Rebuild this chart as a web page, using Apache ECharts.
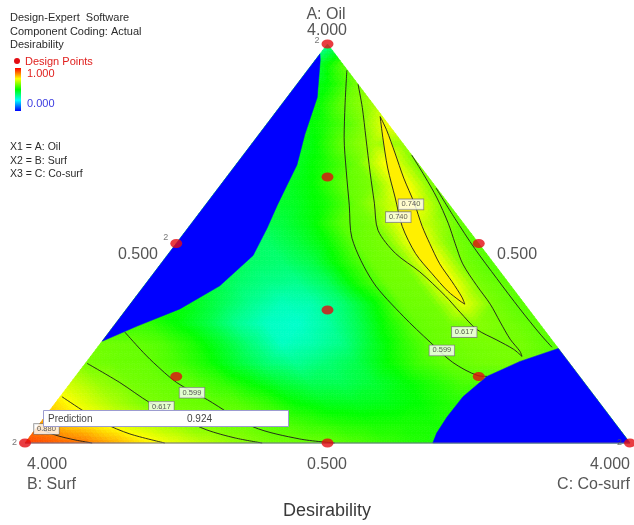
<!DOCTYPE html>
<html>
<head>
<meta charset="utf-8">
<script src="https://cdn.jsdelivr.net/npm/echarts@6.0.0/dist/echarts.min.js"></script>
<style>
html,body{margin:0;padding:0;background:#ffffff;}
#chart{width:634px;height:525px;}
</style>
</head>
<body>
<div id="chart"></div>
<script>
// ---------- values ----------
// Desirability on a simplex lattice: row i -> A (Oil) = i/20, entry j -> C (Co-surf) = j/20, B = 1-A-C
const latticeSteps = 20;
const desirabilityRows = [
  [0.94,0.91,0.885,0.83,0.77,0.725,0.68,0.64,0.615,0.607,0.60,0.575,0.55,0.53,0.52,0.52,0.52,0.52,0.52,0.52,0.52],
  [0.85,0.79,0.745,0.70,0.66,0.618,0.607,0.597,0.575,0.55,0.53,0.52,0.52,0.52,0.52,0.52,0.52,0.52,0.52,0.52],
  [0.78,0.72,0.665,0.62,0.608,0.60,0.585,0.55,0.50,0.475,0.47,0.48,0.50,0.53,0.53,0.53,0.53,0.53,0.53],
  [0.70,0.645,0.612,0.603,0.59,0.55,0.50,0.45,0.42,0.42,0.45,0.49,0.53,0.57,0.57,0.57,0.57,0.57],
  [0.617,0.605,0.60,0.57,0.52,0.45,0.39,0.36,0.39,0.43,0.50,0.56,0.597,0.61,0.615,0.60,0.58],
  [0.61,0.60,0.58,0.53,0.46,0.38,0.31,0.33,0.37,0.46,0.54,0.60,0.612,0.617,0.612,0.585],
  [0.55,0.55,0.50,0.44,0.36,0.31,0.30,0.34,0.42,0.52,0.60,0.61,0.63,0.613,0.59],
  [0.50,0.50,0.48,0.42,0.36,0.32,0.33,0.39,0.49,0.605,0.612,0.73,0.615,0.585],
  [0.45,0.45,0.45,0.40,0.37,0.36,0.41,0.52,0.608,0.614,0.77,0.617,0.59],
  [0.45,0.45,0.45,0.40,0.39,0.43,0.52,0.605,0.615,0.78,0.617,0.58],
  [0.42,0.42,0.42,0.40,0.44,0.50,0.60,0.617,0.77,0.63,0.585],
  [0.42,0.42,0.42,0.44,0.49,0.585,0.612,0.745,0.67,0.59],
  [0.45,0.45,0.45,0.47,0.52,0.607,0.69,0.735,0.598],
  [0.45,0.45,0.46,0.50,0.59,0.62,0.77,0.612],
  [0.46,0.46,0.47,0.53,0.608,0.76,0.617],
  [0.46,0.46,0.49,0.597,0.66,0.645],
  [0.46,0.47,0.53,0.61,0.74],
  [0.46,0.48,0.595,0.66],
  [0.46,0.50,0.617],
  [0.42,0.58],
  [0.36]
];

// Regions where desirability is 0 (blue), as [A, C] fractions
const infeasibleUpperLeft = [[0.975,0],[0.96,0.008],[0.866,0.050],[0.773,0.076],[0.697,0.101],[0.646,0.110],[0.596,0.119],[0.538,0.131],[0.470,0.142],[0.394,0.125],[0.336,0.088],[0.293,0.039],[0.255,0]];
const infeasibleLowerRight = [[0.237,0.763],[0.2045,0.716],[0.1667,0.680],[0.116,0.666],[0.0657,0.665],[0.025,0.668],[0,0.674],[0,1]];

// Contour lines, [A, C] fractions
const contour599Right = [[0.934,0.065],[0.848,0.105],[0.765,0.145],[0.682,0.190],[0.596,0.238],[0.513,0.284],[0.404,0.373],[0.318,0.466],[0.253,0.543],[0.202,0.606],[0.169,0.664],[0.167,0.680]];
const contour617Right = [[0.899,0.101],[0.841,0.137],[0.765,0.181],[0.677,0.232],[0.601,0.277],[0.533,0.317],[0.475,0.375],[0.429,0.438],[0.369,0.510],[0.328,0.555],[0.285,0.604],[0.258,0.651],[0.235,0.690],[0.217,0.713],[0.230,0.703],[0.260,0.672],[0.303,0.634],[0.348,0.595],[0.394,0.550],[0.449,0.499],[0.5,0.461],[0.551,0.424],[0.614,0.374],[0.669,0.326],[0.722,0.278]];
const contour740Ridge = [[0.818,0.178],[0.765,0.209],[0.689,0.255],[0.614,0.305],[0.543,0.352],[0.475,0.408],[0.424,0.461],[0.381,0.508],[0.356,0.541],[0.348,0.553],[0.366,0.539],[0.404,0.504],[0.449,0.461],[0.5,0.419],[0.543,0.385],[0.601,0.343],[0.664,0.294],[0.727,0.248],[0.785,0.205],[0.818,0.178]];
const contour599Edge = [[0.639,0.360],[0.563,0.429],[0.487,0.500],[0.412,0.574],[0.336,0.650],[0.273,0.715],[0.240,0.751]];
const contour599Base = [[0.278,0.026],[0.235,0.073],[0.202,0.111],[0.1515,0.175],[0.1086,0.247],[0.0404,0.357],[0.0101,0.449],[0,0.512]];
const contour617Base = [[0.1995,0.003],[0.1515,0.081],[0.101,0.156],[0.063,0.225],[0.0328,0.284],[0.0126,0.341],[0,0.392]];
const contour740Base = [[0.116,0.003],[0.078,0.060],[0.0505,0.104],[0.0227,0.162],[0,0.231]];
const contour880Base = [[0.038,0.001],[0.020,0.040],[0.0076,0.079],[0,0.111]];

// Contour labels
const contourLabelText = ['0.740','0.740','0.617','0.599','0.599','0.617','0.880'];
const contourLabelA = [0.598,0.566,0.278,0.232,0.126,0.091,0.035];
const contourLabelC = [0.339,0.334,0.587,0.573,0.213,0.180,0.018];

// Design points (fractions) and replicate counts
const designA = [1,0,0,0.5,0.5,0,2/3,1/6,1/6,1/3];
const designC = [0,0,1,0,0.5,0.5,1/6,1/6,2/3,1/3];
const designReplicates = [2,2,2,2,1,1,1,1,1,1];

const predictionText = 'Prediction';
const predictionValue = '0.924';

// ---------- helpers ----------
const toXY = (a, c) => [c + a / 2, a];
const paletteStops = [0, 0.25, 0.5, 0.75, 1];
const paletteColors = [[0,0,255],[0,255,255],[0,255,0],[255,255,0],[255,0,0]];
function colorOf(v) {
  v = Math.max(0, Math.min(1, v));
  const k = Math.min(3, Math.floor(v * 4));
  const t = (v - paletteStops[k]) / 0.25;
  const a = paletteColors[k], b = paletteColors[k + 1];
  return 'rgb(' + Math.round(a[0] + (b[0] - a[0]) * t) + ',' + Math.round(a[1] + (b[1] - a[1]) * t) + ',' + Math.round(a[2] + (b[2] - a[2]) * t) + ')';
}
const N = latticeSteps;
function val(i, j) {
  const row = desirabilityRows[i];
  return row[Math.min(j, row.length - 1)];
}
const fieldTriangles = [];
for (let i = 0; i < N; i++) {
  for (let j = 0; j < N - i; j++) {
    const p = (ii, jj) => [ii / N, jj / N, val(ii, jj)];
    fieldTriangles.push([p(i, j), p(i + 1, j), p(i, j + 1)]);
    if (i + j <= N - 2) fieldTriangles.push([p(i + 1, j), p(i, j + 1), p(i + 1, j + 1)]);
  }
}

const FONT = '"Liberation Sans", Arial, Helvetica, sans-serif';

function polygonSeries(pts, fill, z) {
  return {
    type: 'custom', coordinateSystem: 'cartesian2d', z: z, silent: true, animation: false,
    data: [toXY(pts[0][0], pts[0][1])],
    renderItem: function (params, api) {
      return { type: 'polygon', shape: { points: pts.map(p => api.coord(toXY(p[0], p[1]))) },
               style: { fill: fill, stroke: fill, lineWidth: 0.5 } };
    }
  };
}
function contourSeries(pts) {
  return {
    type: 'line', z: 4, silent: true, animation: false, clip: false, symbol: 'none', smooth: 0.3,
    data: pts.map(p => toXY(p[0], p[1])),
    lineStyle: { color: '#1c1c1c', width: 0.9 }
  };
}

const fieldSeries = {
  type: 'custom', coordinateSystem: 'cartesian2d', z: 1, silent: true, animation: false,
  data: fieldTriangles.map(t => toXY(t[0][0], t[0][1])),
  renderItem: function (params, api) {
    const t = fieldTriangles[params.dataIndex];
    const P = t.map(p => api.coord(toXY(p[0], p[1])));
    const V = t.map(p => p[2]);
    const m = 6, kids = [];
    const at = (u, w) => {
      const l1 = u / m, l2 = w / m, l0 = 1 - l1 - l2;
      return [l0 * P[0][0] + l1 * P[1][0] + l2 * P[2][0],
              l0 * P[0][1] + l1 * P[1][1] + l2 * P[2][1],
              l0 * V[0] + l1 * V[1] + l2 * V[2]];
    };
    const tri = (q1, q2, q3) => {
      const c = colorOf((q1[2] + q2[2] + q3[2]) / 3);
      kids.push({ type: 'polygon', shape: { points: [[q1[0], q1[1]], [q2[0], q2[1]], [q3[0], q3[1]]] },
                  style: { fill: c, stroke: c, lineWidth: 0.7 } });
    };
    for (let u = 0; u < m; u++) {
      for (let w = 0; w < m - u; w++) {
        tri(at(u, w), at(u + 1, w), at(u, w + 1));
        if (u + w < m - 1) tri(at(u + 1, w), at(u, w + 1), at(u + 1, w + 1));
      }
    }
    return { type: 'group', children: kids };
  }
};

const repLabelOffset = [[0,-3],[0,0],[0,0],[0,-6],[0,0],[0,0],[0,0],[0,0],[0,0],[0,0]];
const designSeries = {
  type: 'scatter', z: 6, silent: true, animation: false, clip: false,
  symbol: 'circle', symbolSize: [12, 9],
  itemStyle: { color: '#e30b12' },
  data: designA.map((a, k) => ({
    value: toXY(a, designC[k]),
    label: { show: designReplicates[k] > 1, formatter: String(designReplicates[k]), position: 'left', distance: 2,
             offset: repLabelOffset[k], fontSize: 9, color: '#555', fontFamily: FONT }
  }))
};

const labelSeries = {
  type: 'scatter', z: 5, silent: true, animation: false, clip: false,
  symbolSize: 1, itemStyle: { color: 'rgba(0,0,0,0)' },
  data: contourLabelText.map((t, k) => ({ name: t, value: toXY(contourLabelA[k], contourLabelC[k]) })),
  label: { show: true, position: 'inside', formatter: '{b}', fontSize: 7.5, lineHeight: 8, color: '#333',
           fontFamily: FONT, backgroundColor: '#ffffff', borderColor: '#777', borderWidth: 0.8, padding: [1, 3] }
};

const bottomEdge = {
  type: 'line', z: 4, silent: true, animation: false, clip: false, symbol: 'none',
  data: [toXY(0, 0), toXY(0, 1)], lineStyle: { color: '#6a6a90', width: 1 }
};

function txt(x, y, s, size, fill, align, weight) {
  return { type: 'text', x: x, y: y, silent: true,
           style: { text: s, fontSize: size, fontFamily: FONT, fill: fill, align: align || 'left',
                    verticalAlign: 'middle', fontWeight: weight || 'normal' } };
}
const axisGray = '#555555';
const graphics = [
  txt(10, 18, 'Design-Expert  Software', 11, '#2b2b2b'),
  txt(10, 32, 'Component Coding: Actual', 11, '#2b2b2b'),
  txt(10, 45, 'Desirability', 11, '#2b2b2b'),
  { type: 'circle', shape: { cx: 17, cy: 61, r: 3 }, style: { fill: '#e30b12' }, silent: true },
  txt(25, 62, 'Design Points', 11, '#e0201e'),
  { type: 'rect', shape: { x: 15, y: 68, width: 6, height: 43 }, silent: true,
    style: { fill: new echarts.graphic.LinearGradient(0, 0, 0, 1, [
      { offset: 0, color: '#ff0000' }, { offset: 0.25, color: '#ffff00' }, { offset: 0.5, color: '#00ff00' },
      { offset: 0.75, color: '#00ffff' }, { offset: 1, color: '#0000ff' }]) } },
  txt(27, 74, '1.000', 11, '#e0201e'),
  txt(27, 104, '0.000', 11, '#3b3be0'),
  txt(10, 147, 'X1 = A: Oil', 10.5, '#2b2b2b'),
  txt(10, 161, 'X2 = B: Surf', 10.5, '#2b2b2b'),
  txt(10, 174, 'X3 = C: Co-surf', 10.5, '#2b2b2b'),
  txt(326, 15, 'A: Oil', 16, axisGray, 'center'),
  txt(327, 31, '4.000', 16, axisGray, 'center'),
  txt(158, 255, '0.500', 16, axisGray, 'right'),
  txt(497, 255, '0.500', 16, axisGray, 'left'),
  txt(27, 465, '4.000', 16, axisGray, 'left'),
  txt(27, 485, 'B: Surf', 16, axisGray, 'left'),
  txt(327, 465, '0.500', 16, axisGray, 'center'),
  txt(630, 465, '4.000', 16, axisGray, 'right'),
  txt(630, 485, 'C: Co-surf', 16, axisGray, 'right'),
  txt(327, 511, 'Desirability', 18, '#3a3a3a', 'center'),
  { type: 'rect', shape: { x: 43.5, y: 410.5, width: 245, height: 16 }, silent: true, z: 100,
    style: { fill: '#ffffff', stroke: '#9c9cd0', lineWidth: 1 } },
  Object.assign(txt(48, 419, predictionText, 10, '#444'), { z: 101 }),
  Object.assign(txt(187, 419, predictionValue, 10, '#444'), { z: 101 })
];

const chart = echarts.init(document.getElementById('chart'), null, { renderer: 'canvas' });
chart.setOption({
  animation: false,
  backgroundColor: '#ffffff',
  grid: { left: 25, top: 44, width: 605, height: 399, containLabel: false, outerBoundsMode: 'none' },
  xAxis: { type: 'value', min: 0, max: 1, show: false },
  yAxis: { type: 'value', min: 0, max: 1, show: false },
  series: [
    fieldSeries,
    polygonSeries(contour740Ridge, colorOf(0.765), 2),
    polygonSeries(infeasibleUpperLeft, '#0000ff', 3),
    polygonSeries(infeasibleLowerRight, '#0000ff', 3),
    contourSeries(contour599Right),
    contourSeries(contour617Right),
    contourSeries(contour740Ridge),
    contourSeries(contour599Edge),
    contourSeries(contour599Base),
    contourSeries(contour617Base),
    contourSeries(contour740Base),
    contourSeries(contour880Base),
    bottomEdge,
    labelSeries,
    designSeries
  ],
  graphic: { elements: graphics }
});
</script>
</body>
</html>
